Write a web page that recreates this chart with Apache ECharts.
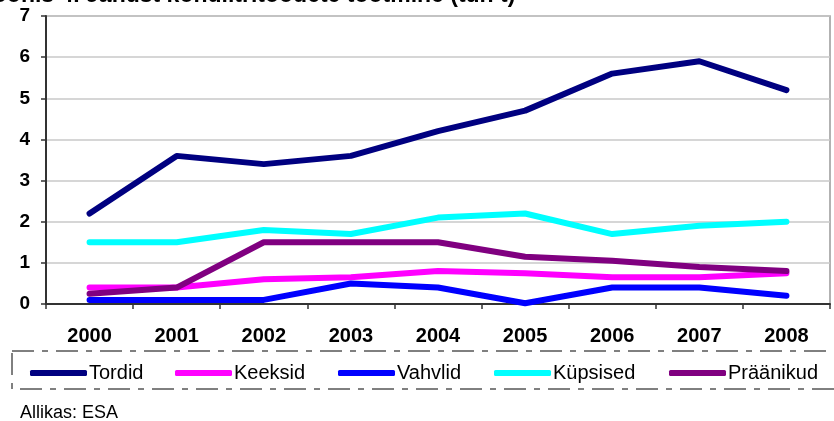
<!DOCTYPE html>
<html>
<head>
<meta charset="utf-8">
<script src="https://cdn.jsdelivr.net/npm/echarts@6/dist/echarts.min.js"></script>
<style>
html,body{margin:0;padding:0;background:#fff;}
#c{width:834px;height:421px;}
</style>
</head>
<body>
<div id="c"></div>
<script>
var categories = ['2000','2001','2002','2003','2004','2005','2006','2007','2008'];
var tordid     = [2.2, 3.6, 3.4, 3.6, 4.2, 4.7, 5.6, 5.9, 5.2];
var keeksid    = [0.4, 0.4, 0.6, 0.65, 0.8, 0.75, 0.65, 0.65, 0.75];
var vahvlid    = [0.1, 0.1, 0.1, 0.5, 0.4, 0.02, 0.4, 0.4, 0.2];
var kupsised   = [1.5, 1.5, 1.8, 1.7, 2.1, 2.2, 1.7, 1.9, 2.0];
var praanikud  = [0.25, 0.4, 1.5, 1.5, 1.5, 1.15, 1.05, 0.9, 0.8];
var seriesNames = ['Tordid','Keeksid','Vahvlid','Küpsised','Präänikud'];
var seriesData = [tordid, keeksid, vahvlid, kupsised, praanikud];
var colors = ['#000080','#FF00FF','#0000FF','#00FFFF','#800080'];
var legendLeft = [25, 170, 333, 489, 664];
var titleText = 'Joonis 4. Jahust kondiitritoodete tootmine (tuh t)';
var sourceText = 'Allikas: ESA';

var chart = echarts.init(document.getElementById('c'));
var font = 'Arial, "Liberation Sans", sans-serif';

var series = seriesNames.map(function(n, i){
  return {
    name: n, type: 'line', data: seriesData[i], symbol: 'none',
    lineStyle: {color: colors[i], width: 6, cap: 'round', join: 'round'},
    itemStyle: {color: colors[i]},
    z: 2 + i
  };
});

var legends = seriesNames.map(function(n, i){
  return {
    data: [n], left: legendLeft[i], top: 358,
    icon: 'roundRect', itemWidth: 57, itemHeight: 6, itemGap: 0,
    textStyle: {fontFamily: font, fontSize: 20, color: '#000', padding: [0,0,0,-3]}
  };
});

chart.setOption({
  animation: false,
  backgroundColor: '#fff',
  color: colors,
  grid: {left: 46, right: 4, top: 16, bottom: 117, show: true, borderColor: '#999', borderWidth: 1.5, containLabel: false},
  legend: legends,
  xAxis: {
    type: 'category', data: categories, boundaryGap: true,
    axisLine: {lineStyle: {color: '#333', width: 2}},
    axisTick: {show: true, interval: 0, length: 5, lineStyle: {color: '#333', width: 1.5}},
    axisLabel: {fontFamily: font, fontSize: 20, fontWeight: 'bold', color: '#000', margin: 22, interval: 0}
  },
  yAxis: {
    type: 'value', min: 0, max: 7, interval: 1,
    axisLine: {show: true, lineStyle: {color: '#333', width: 2}},
    axisTick: {show: true, length: 5, lineStyle: {color: '#333', width: 1.5}},
    axisLabel: {fontFamily: font, fontSize: 19, fontWeight: 'bold', color: '#000', margin: 16},
    splitLine: {show: true, lineStyle: {color: '#c8c8c8', width: 1.5}}
  },
  graphic: [
    {type: 'text', left: -20, top: -16, silent: true,
     style: {text: titleText, fontFamily: font, fontSize: 23, fontWeight: 'bold', fill: '#000'}},
    {type: 'rect', shape: {x: 12, y: 351, width: 832, height: 38}, silent: true, z: -1,
     style: {fill: 'none', stroke: '#000', lineWidth: 1, lineDash: [22, 8, 6, 8]}},
    {type: 'text', left: 20, top: 404, silent: true,
     style: {text: sourceText, fontFamily: font, fontSize: 18, fill: '#000'}}
  ],
  series: series
});
</script>
</body>
</html>
